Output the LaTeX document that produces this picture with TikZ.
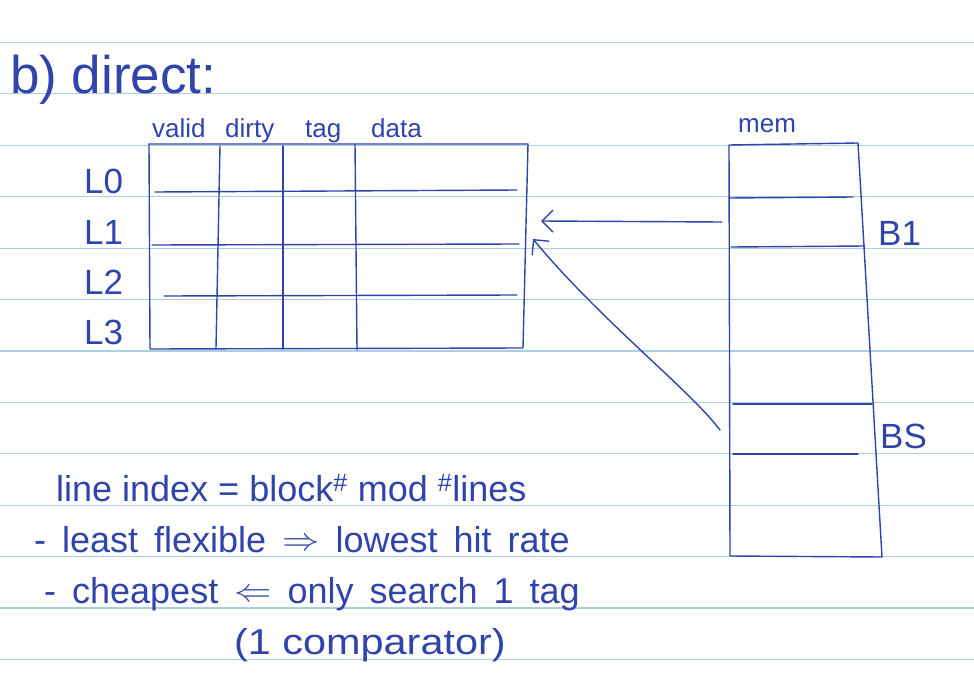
\documentclass[tikz,border=0pt]{standalone}
\usepackage{fontspec}
\setmainfont{Liberation Sans}
\usetikzlibrary{arrows.meta}
\definecolor{pen}{RGB}{48,68,172}
\definecolor{rule}{RGB}{172,206,226}
\tikzset{
  pen/.style={draw=pen, line width=1.4pt, line cap=round, line join=round},
  ruled/.style={draw=rule, line width=1.2pt},
  hand/.style={text=pen, inner sep=0pt, anchor=base west},
  colfont/.style={font=\fontsize{26}{28}\selectfont},
  bigfont/.style={font=\fontsize{35}{38}\selectfont},
  notefont/.style={font=\fontsize{36}{38}\selectfont},
  arr/.style={pen, -{Straight Barb[length=11pt,width=22pt,line width=1.4pt]}},
}
\newcommand{\myRarr}{\raisebox{2pt}{\scalebox{1.5}[1.3]{$\Rightarrow$}}}
\newcommand{\myLarr}{\raisebox{2pt}{\scalebox{1.5}[1.3]{$\Leftarrow$}}}
\begin{document}
\begin{tikzpicture}[x=1pt,y=-1pt]
\useasboundingbox[fill=white] (0,0) rectangle (974,682);
% ruled paper lines
\foreach \k in {0,...,12}{
  \draw[ruled] (0,{42.5+51.4*\k}) -- (974,{42.5+51.4*\k});
}
% title
\node[hand, font=\fontsize{53}{56}\selectfont] (title) at (10,94) {b) direct:};
% cache table
\coordinate (c00) at (149,144);
\coordinate (c10) at (528,144);
\coordinate (c11) at (523,348);
\coordinate (c01) at (150,349);
\draw[pen] (c00) -- (c10) -- (c11) -- (c01) -- cycle;
\draw[pen] (220,146) -- (216,348);
\draw[pen] (283,146) -- (283,349);
\draw[pen] (355,144) -- (357,350);
\draw[pen] (155,192) -- (517,190);
\draw[pen] (152,245) -- (519,244);
\draw[pen] (164,296) -- (517,295);
% column labels
\node[hand, colfont] (lvalid) at (152,138) {valid};
\node[hand, colfont] (ldirty) at (225,138) {dirty};
\node[hand, colfont] (ltag) at (305,138) {tag};
\node[hand, colfont] (ldata) at (371,138) {data};
% row labels
\foreach \i/\yy in {0/193,1/244,2/294,3/344}{
  \node[hand, bigfont] (row\i) at (84,\yy) {L\i};
}
% memory
\node[hand, colfont] (lmem) at (738,132) {mem};
\coordinate (m00) at (729,145);
\coordinate (m10) at (858,143);
\coordinate (m11) at (882,557);
\coordinate (m01) at (730,556);
\draw[pen] (m00) -- (m10) -- (m11) -- (m01) -- cycle;
\draw[pen] (729,198) -- (853,197);
\draw[pen] (731,247) -- (865,246);
\draw[pen] (733,404) -- (872,404);
\draw[pen] (733,454) -- (858,454);
\node[hand, bigfont] (lb1) at (878,245) {B1};
\node[hand, bigfont] (lbs) at (880,448) {BS};
% arrows
\coordinate (b1src) at (722,222);
\coordinate (b1dst) at (541,221);
\coordinate (bssrc) at (720,430);
\coordinate (bsdst) at (533,239);
\draw[arr] (b1src) -- (b1dst);
\draw[arr] (bssrc) .. controls (690,390) and (600,320) .. (bsdst);
% notes
\node[hand, notefont] (n1) at (56,501) {line index = block\textsuperscript{\#} mod \textsuperscript{\#}lines};
\node[hand, notefont] (n2) at (34,552) {\spaceskip=16pt - least flexible \myRarr{} lowest hit rate};
\node[hand, notefont] (n3) at (44,603) {\spaceskip=16pt - cheapest \myLarr{} only search 1 tag};
\node[hand, notefont] (n4) at (234,654) {\scalebox{1.15}[1]{(1 comparator)}};
\end{tikzpicture}
\end{document}
